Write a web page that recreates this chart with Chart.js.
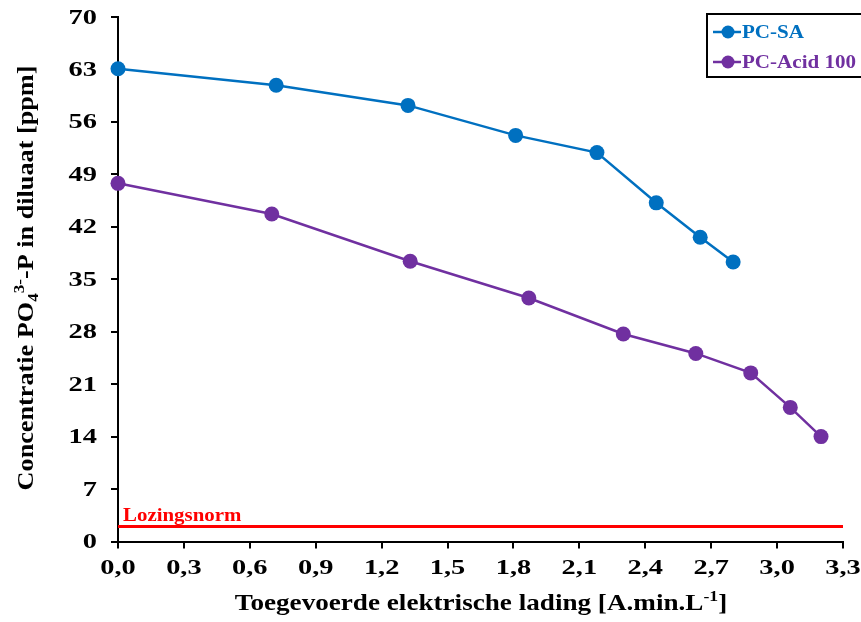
<!DOCTYPE html>
<html>
<head>
<meta charset="utf-8">
<script src="https://cdn.jsdelivr.net/npm/chart.js@4.4.1/dist/chart.umd.min.js"></script>
<style>
  html, body { margin: 0; padding: 0; background: #ffffff; }
  #wrap { width: 861px; height: 622px; position: relative; }
</style>
</head>
<body>
<div id="wrap"><canvas id="chart" width="861" height="622"></canvas></div>
<script>
// Series: applied electric charge (A.min/L) vs. PO4-P concentration (ppm)
const chargeSA = [0, 0.72, 1.32, 1.81, 2.18, 2.45, 2.65, 2.80];
const concSA = [63.1, 60.9, 58.2, 54.2, 51.9, 45.2, 40.6, 37.3];

const chargeAcid = [0, 0.70, 1.33, 1.87, 2.30, 2.63, 2.88, 3.06, 3.20];
const concAcid = [47.8, 43.7, 37.4, 32.5, 27.7, 25.1, 22.5, 17.9, 14.0];

const seriesNames = ['PC-SA', 'PC-Acid 100'];
const seriesColors = ['#0070C0', '#7030A0'];

// Discharge limit
const normName = 'Lozingsnorm';
const normLevel = 2;
const normRange = [0, 3.3];

// Axis ticks
const xTickValues = [0, 0.3, 0.6, 0.9, 1.2, 1.5, 1.8, 2.1, 2.4, 2.7, 3.0, 3.3];
const xTickLabels = ['0,0', '0,3', '0,6', '0,9', '1,2', '1,5', '1,8', '2,1', '2,4', '2,7', '3,0', '3,3'];
const yTickValues = [0, 7, 14, 21, 28, 35, 42, 49, 56, 63, 70];
const yTickLabels = ['0', '7', '14', '21', '28', '35', '42', '49', '56', '63', '70'];

const FAMILY = '"Liberation Serif", "Times New Roman", serif';

function toPoints(xs, ys) {
  return xs.map((x, i) => ({ x: x, y: ys[i] }));
}

// Draw a run of text parts (for sub/superscripts), stretched horizontally by sx
function drawParts(ctx, parts, x, y, align, sx, color) {
  ctx.save();
  ctx.fillStyle = color;
  ctx.textBaseline = 'alphabetic';
  let total = 0;
  parts.forEach(p => {
    ctx.font = 'bold ' + p.size + 'px ' + FAMILY;
    p.w = ctx.measureText(p.t).width;
    total += p.w;
  });
  let start = x;
  if (align === 'center') start = x - total * sx / 2;
  else if (align === 'right') start = x - total * sx;
  ctx.translate(start, y);
  ctx.scale(sx, 1);
  let cx = 0;
  parts.forEach(p => {
    ctx.font = 'bold ' + p.size + 'px ' + FAMILY;
    ctx.textAlign = 'left';
    ctx.fillText(p.t, cx, p.dy || 0);
    cx += p.w;
  });
  ctx.restore();
}

const textPlugin = {
  id: 'textPlugin',
  afterDraw(chart) {
    const ctx = chart.ctx;
    const xs = chart.scales.x;
    const ys = chart.scales.y;

    // tick labels
    xTickValues.forEach((v, i) => {
      drawParts(ctx, [{ t: xTickLabels[i], size: 20 }], xs.getPixelForValue(v), 574, 'center', 1.42, '#000');
    });
    yTickValues.forEach((v, i) => {
      drawParts(ctx, [{ t: yTickLabels[i], size: 20 }], 97, ys.getPixelForValue(v) + 6.5, 'right', 1.42, '#000');
    });

    // x axis title
    drawParts(ctx, [
      { t: 'Toegevoerde elektrische lading [A.min.L', size: 23 },
      { t: '-1', size: 15, dy: -9 },
      { t: ']', size: 23 }
    ], 481, 610, 'center', 1.18, '#000');

    // y axis title (rotated)
    ctx.save();
    ctx.translate(33, 278);
    ctx.rotate(-Math.PI / 2);
    drawParts(ctx, [
      { t: 'Concentratie PO', size: 23 },
      { t: '4', size: 15, dy: 5 },
      { t: '3-', size: 15, dy: -9 },
      { t: '-P in diluaat [ppm]', size: 23 }
    ], 0, 0, 'center', 1.14, '#000');
    ctx.restore();

    // discharge limit label
    drawParts(ctx, [{ t: normName, size: 19 }], xs.getPixelForValue(normRange[0]) + 5, ys.getPixelForValue(normLevel) - 6, 'left', 1.1, '#FF0000');

    // legend box
    ctx.save();
    ctx.strokeStyle = '#000';
    ctx.lineWidth = 2;
    ctx.fillStyle = '#fff';
    ctx.fillRect(707, 14, 170, 63);
    ctx.strokeRect(707, 14, 170, 63);
    ctx.restore();
    seriesNames.forEach((name, i) => {
      const cy = 32 + i * 30;
      ctx.save();
      ctx.strokeStyle = seriesColors[i];
      ctx.lineWidth = 2.5;
      ctx.beginPath();
      ctx.moveTo(713, cy);
      ctx.lineTo(741, cy);
      ctx.stroke();
      ctx.fillStyle = seriesColors[i];
      ctx.beginPath();
      ctx.arc(728, cy, 6.5, 0, Math.PI * 2);
      ctx.fill();
      ctx.restore();
      drawParts(ctx, [{ t: name, size: 18 }], 742, cy + 5.5, 'left', 1.17, seriesColors[i]);
    });
  }
};

new Chart(document.getElementById('chart'), {
  type: 'line',
  data: {
    datasets: [
      {
        label: seriesNames[0],
        data: toPoints(chargeSA, concSA),
        borderColor: seriesColors[0],
        backgroundColor: seriesColors[0],
        borderWidth: 2.5,
        pointRadius: 7.5,
        pointHoverRadius: 7.5,
        pointBorderWidth: 0,
        clip: false
      },
      {
        label: seriesNames[1],
        data: toPoints(chargeAcid, concAcid),
        borderColor: seriesColors[1],
        backgroundColor: seriesColors[1],
        borderWidth: 2.5,
        pointRadius: 7.5,
        pointHoverRadius: 7.5,
        pointBorderWidth: 0,
        clip: false
      },
      {
        label: normName,
        data: normRange.map(x => ({ x: x, y: normLevel })),
        borderColor: '#FF0000',
        borderWidth: 3,
        pointRadius: 0,
        clip: false
      }
    ]
  },
  options: {
    responsive: false,
    animation: false,
    events: [],
    layout: { padding: { left: 0, right: 18, top: 17, bottom: 0 } },
    plugins: {
      legend: { display: false },
      tooltip: { enabled: false },
      title: { display: false }
    },
    scales: {
      x: {
        type: 'linear',
        min: 0,
        max: 3.3,
        afterBuildTicks(scale) { scale.ticks = xTickValues.map(v => ({ value: v })); },
        afterFit(scale) { scale.height = 80.5; },
        ticks: { display: false },
        grid: { display: true, drawOnChartArea: false, drawTicks: true, tickLength: 7, color: '#000', lineWidth: 2 },
        border: { display: true, color: '#000', width: 2 }
      },
      y: {
        type: 'linear',
        min: 0,
        max: 70,
        afterBuildTicks(scale) { scale.ticks = yTickValues.map(v => ({ value: v })); },
        afterFit(scale) { scale.width = 118; },
        ticks: { display: false },
        grid: { display: true, drawOnChartArea: false, drawTicks: true, tickLength: 7, color: '#000', lineWidth: 2 },
        border: { display: true, color: '#000', width: 2 }
      }
    }
  },
  plugins: [textPlugin]
});
</script>
</body>
</html>
